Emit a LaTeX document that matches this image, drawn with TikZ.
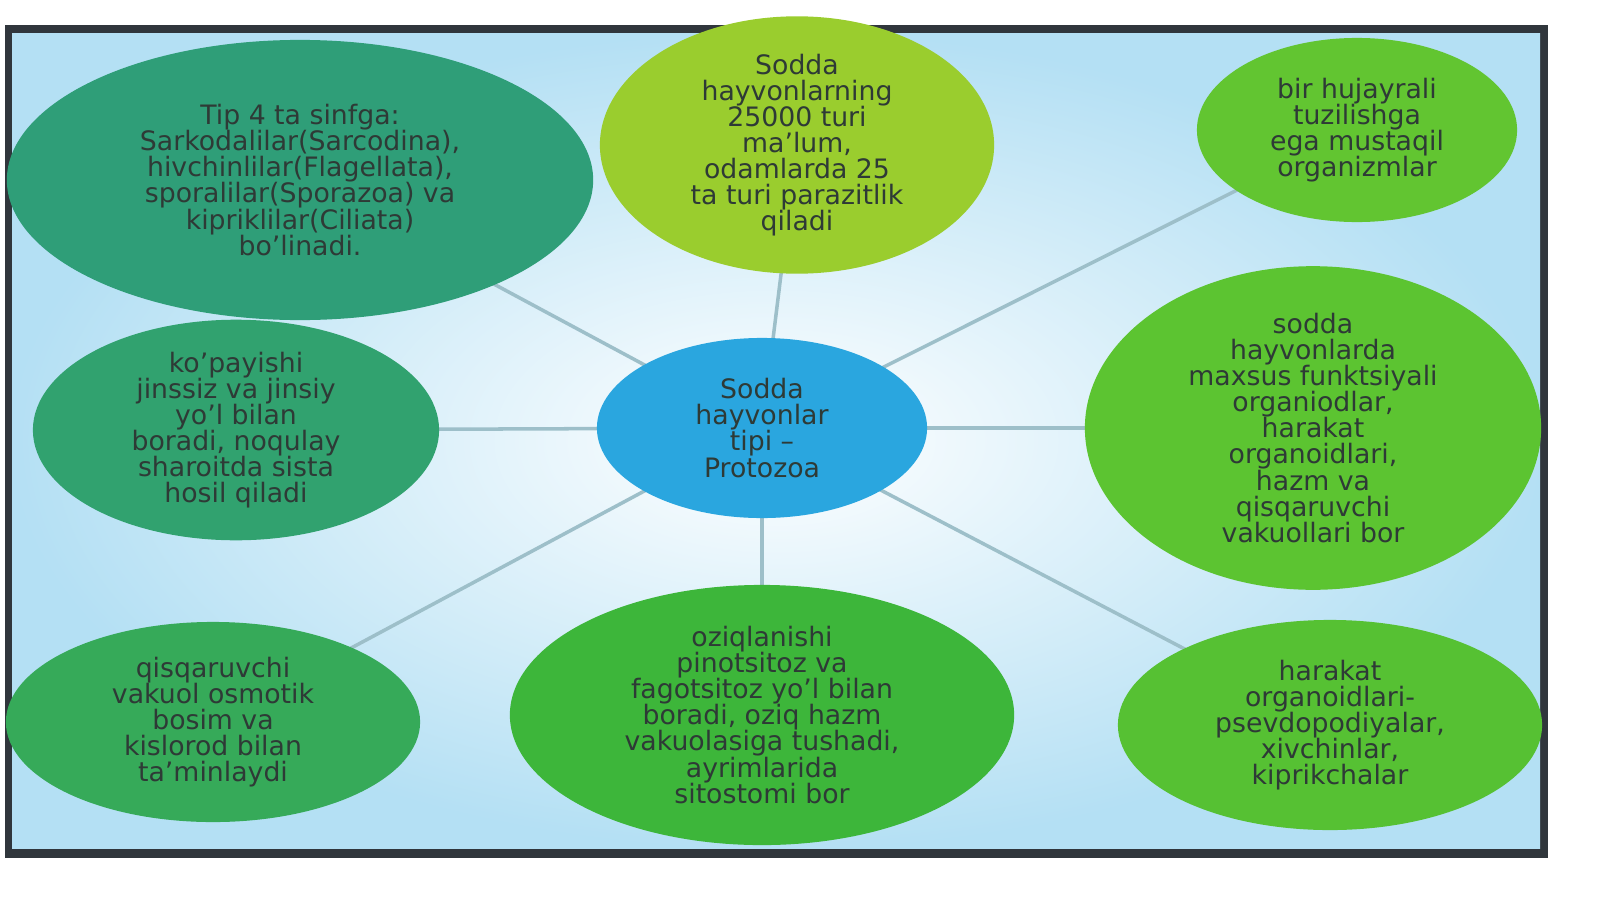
\documentclass[tikz,border=0pt]{standalone}
\usepackage{fontspec}
\setmainfont{DejaVu Sans}
\usetikzlibrary{backgrounds, shapes.geometric}
\pgfdeclarelayer{bottom}
\pgfsetlayers{bottom,background,main}
\definecolor{frame}{HTML}{30363C}
\definecolor{cblue}{HTML}{2AA6DF}
\definecolor{cteal}{HTML}{2F9E78}
\definecolor{cyel}{HTML}{9ACD2E}
\definecolor{cgreen}{HTML}{5CC431}
\definecolor{cgreenb}{HTML}{3DB63A}
\definecolor{linec}{HTML}{9DBFC9}
\definecolor{txt}{HTML}{2E3A36}
\tikzset{
  bubble/.style={ellipse, inner sep=0pt, align=center, text=txt,
    font=\fontsize{7.6}{7.4}\selectfont},
  link/.style={linec, line width=1pt}
}
\begin{document}
\begin{tikzpicture}[x=0.01cm, y=-0.01cm]
\useasboundingbox (0,0) rectangle (1600,900);
\begin{pgfonlayer}{bottom}
\fill[white] (0,0) rectangle (1600,900);
\fill[frame] (5,25) rectangle (1548,858);
\shade[inner color=white, outer color=cblue!35] (12,33) rectangle (1540,848);
\end{pgfonlayer}
\node[bubble, fill=cblue, minimum width=3.3cm, minimum height=1.8cm] (core) at (762,428)
  {Sodda\\hayvonlar\\tipi –\\Protozoa};
\node[bubble, fill=cteal, minimum width=5.86cm, minimum height=2.8cm] (kinds) at (300,180)
  {Tip 4 ta sinfga:\\Sarkodalilar(Sarcodina),\\hivchinlilar(Flagellata),\\sporalilar(Sporazoa) va\\kipriklilar(Ciliata)\\bo’linadi.};
\node[bubble, fill=cyel, minimum width=3.94cm, minimum height=1.86cm] (count) at (797,145)
  {Sodda\\hayvonlarning\\25000 turi\\ma’lum,\\odamlarda 25\\ta turi parazitlik\\qiladi};
\node[bubble, fill=cgreen!90!cyel, minimum width=3.2cm, minimum height=1.84cm] (cell) at (1357,130)
  {bir hujayrali\\tuzilishga\\ega mustaqil\\organizmlar};
\node[bubble, fill=cgreen, minimum width=4.56cm, minimum height=2.36cm] (organ) at (1313,428)
  {sodda\\hayvonlarda\\maxsus funktsiyali\\organiodlar,\\harakat\\organoidlari,\\hazm va\\qisqaruvchi\\vakuollari bor};
\node[bubble, fill=cgreen!80!cgreenb, minimum width=4.24cm, minimum height=2.1cm] (move) at (1330,725)
  {harakat\\organoidlari-\\psevdopodiyalar,\\xivchinlar,\\kiprikchalar};
\node[bubble, fill=cgreenb, minimum width=5.04cm, minimum height=2.6cm] (food) at (762,715)
  {oziqlanishi\\pinotsitoz va\\fagotsitoz yo’l bilan\\boradi, oziq hazm\\vakuolasiga tushadi,\\ayrimlarida\\sitostomi bor};
\node[bubble, fill=cteal!50!cgreenb, minimum width=4.14cm, minimum height=2cm] (vac) at (213,722)
  {qisqaruvchi\\vakuol osmotik\\bosim va\\kislorod bilan\\ta’minlaydi};
\node[bubble, fill=cteal!85!cgreenb, minimum width=4.06cm, minimum height=2.06cm] (repro) at (236,430)
  {ko’payishi\\jinssiz va jinsiy\\yo’l bilan\\boradi, noqulay\\sharoitda sista\\hosil qiladi};
\begin{pgfonlayer}{background}
\foreach \leaf in {kinds, count, cell, organ, move, food, vac, repro}
  \draw[link] (core.center) -- (\leaf.center);
\end{pgfonlayer}
\end{tikzpicture}
\end{document}
